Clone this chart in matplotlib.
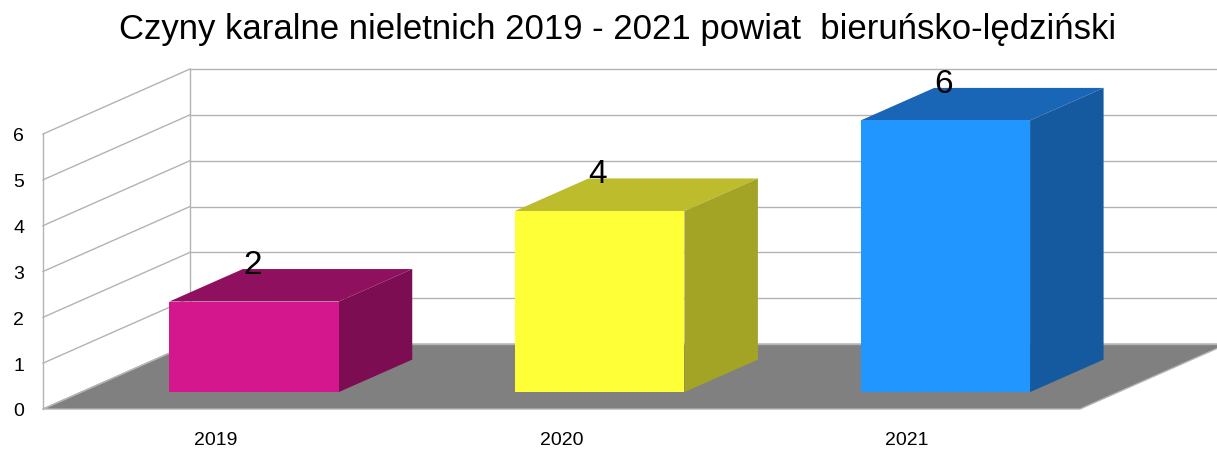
import numpy as np
import matplotlib.pyplot as plt
from matplotlib.patches import Polygon

plt.rcParams['font.family'] = ['Liberation Sans', 'DejaVu Sans']

title = 'Czyny karalne nieletnich 2019 - 2021 powiat  bieruńsko-lędziński'
years = ['2019', '2020', '2021']
values = [2, 4, 6]
front_colors = ['#d4178c', '#ffff38', '#2196fe']
top_colors = ['#8f105e', '#bcbc2c', '#1a66b6']
side_colors = ['#7d0d52', '#a3a326', '#155a9e']

# fake 3d: depth shift in data units (category units, value units)
DX, DY = 0.4253, 1.418
f_depth, b_depth = 0.26, 0.76
persp = 0.988  # bars stand a bit behind the front plane
bar_w = 0.49
ymax = 6
grid_c = '#b3b3b3'

fig = plt.figure(figsize=(12.17, 4.52), dpi=100)
ax = fig.add_axes([43 / 1217, 42 / 452, 1037 / 1217, 275 / 452])
ax.set_xlim(0, 3)
ax.set_ylim(0, ymax)
for s in ax.spines.values():
    s.set_visible(False)

# walls
ax.plot([0, 0], [0, ymax], color=grid_c, lw=1, clip_on=False)
ax.plot([DX, DX], [DY, ymax + DY], color=grid_c, lw=1, clip_on=False)
for v in range(ymax + 1):
    ax.plot([0, DX], [v, v + DY], color=grid_c, lw=1, clip_on=False)
    ax.plot([DX, 3 + DX], [v + DY, v + DY], color=grid_c, lw=1, clip_on=False)

# floor
floor = Polygon([(0, 0), (3, 0), (3 + DX, DY), (DX, DY)], closed=True,
                facecolor='#808080', edgecolor='#b3b3b3', lw=1, clip_on=False)
ax.add_patch(floor)

x = np.arange(len(values)) + 0.5
fx = x + f_depth * DX
hv = np.array(values) * persp
bars = ax.bar(fx, hv, bar_w, bottom=f_depth * DY, color=front_colors,
              zorder=3, clip_on=False)
d = (b_depth - f_depth)
for i, v in enumerate(values):
    x0 = fx[i] - bar_w / 2
    x1 = fx[i] + bar_w / 2
    y0 = f_depth * DY
    y1 = hv[i] + f_depth * DY
    top = Polygon([(x0, y1), (x1, y1), (x1 + d * DX, y1 + d * DY),
                   (x0 + d * DX, y1 + d * DY)], closed=True,
                  facecolor=top_colors[i], edgecolor='none', zorder=2, clip_on=False)
    side = Polygon([(x1, y0), (x1 + d * DX, y0 + d * DY), (x1 + d * DX, y1 + d * DY),
                    (x1, y1)], closed=True,
                   facecolor=side_colors[i], edgecolor='none', zorder=2, clip_on=False)
    ax.add_patch(top)
    ax.add_patch(side)
    ax.text(fx[i] - 0.005, hv[i] + 0.99, str(v), ha='center', va='baseline', fontsize=24,
            zorder=5, clip_on=False)

ax.set_yticks(range(ymax + 1))
ax.set_xticks(x)
ax.set_xticklabels(years)
ax.tick_params(axis='y', length=0, pad=13.5, labelsize=14)
ax.tick_params(axis='x', length=0, pad=16, labelsize=14)

fig.text(618 / 1217, 1 - 30 / 452, title, ha='center', va='center', fontsize=25)

fig.savefig('out.png', dpi=100)
